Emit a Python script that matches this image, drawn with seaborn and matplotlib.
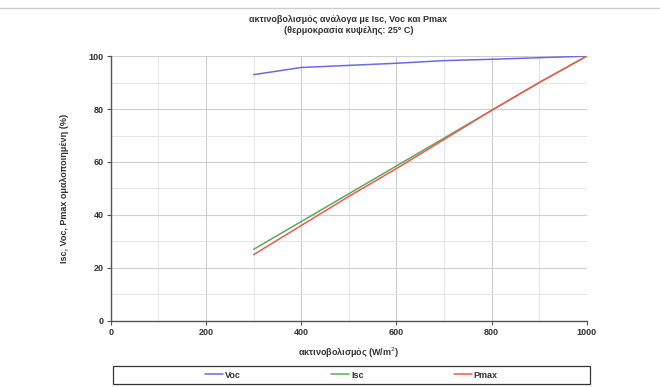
import numpy as np
import pandas as pd
import matplotlib.pyplot as plt
import seaborn as sns

# Τιμές διαβασμένες από το διάγραμμα
irradiance = [300, 400, 500, 600, 700, 800, 900, 1000]
voc = [93.0, 95.7, 96.5, 97.3, 98.3, 98.8, 99.4, 100.0]
isc = [27.0, 37.5, 48.0, 58.5, 69.0, 79.5, 90.0, 100.0]
pmax = [25.0, 36.0, 47.0, 57.5, 68.5, 79.5, 90.0, 100.0]

series = ['Voc', 'Isc', 'Pmax']
colors = ['#6a6ae8', '#5aaa5a', '#ee5a50']

df = pd.DataFrame({'x': irradiance * 3,
                   'value': voc + isc + pmax,
                   'series': np.repeat(series, len(irradiance))})

sns.set_style("white")
plt.rcParams['font.family'] = ['Liberation Sans', 'DejaVu Sans']

fig = plt.figure(figsize=(6.6, 3.87), dpi=100)
ax = fig.add_axes([0.168, 0.171, 0.721, 0.684])

sns.lineplot(data=df, x='x', y='value', hue='series', hue_order=series,
             palette=colors, linewidth=1.1, ax=ax, legend=False)

ax.set_xlim(0, 1000)
ax.set_ylim(0, 100)
ax.set_xticks(range(0, 1001, 200))
ax.set_yticks(range(0, 101, 20))
ax.set_xticks(range(100, 1000, 200), minor=True)
ax.set_yticks(range(10, 100, 20), minor=True)
ax.grid(True, which='major', color='#cfcfcf', linewidth=0.8)
ax.grid(True, which='minor', color='#e6e6e6', linewidth=0.7)
ax.set_axisbelow(True)
for s in ['top', 'right']:
    ax.spines[s].set_visible(False)
for s in ['left', 'bottom']:
    ax.spines[s].set_color('#555555')
    ax.spines[s].set_linewidth(1.0)
ax.tick_params(which='major', direction='out', length=3, width=0.8, color='#555555',
               labelsize=6.5, pad=2, left=True, bottom=True)
ax.tick_params(which='minor', length=0)
for lbl in ax.get_xticklabels() + ax.get_yticklabels():
    lbl.set_fontweight('bold')
    lbl.set_color('#333333')

ax.set_xlabel('ακτινοβολισμός (W/m$^2$)', fontsize=6.5, fontweight='bold', color='#333333', labelpad=6)
ax.set_ylabel('Isc, Voc, Pmax ομαλοποιημένη (%)', fontsize=6.5, fontweight='bold', color='#333333', labelpad=14)
fig.text(0.528, 0.935, 'ακτινοβολισμός ανάλογα με Isc, Voc και Pmax\n(θερμοκρασία κυψέλης: 25° C)',
         ha='center', va='center', fontsize=6.5, fontweight='bold', color='#333333', linespacing=1.3)

# γραμμή πλαισίου πάνω
fig.add_artist(plt.Line2D([0, 1], [0.98, 0.98], color='#cccccc', linewidth=1.0))

# πλαίσιο υπομνήματος
box = plt.Rectangle((113 / 660, 3 / 387), 477 / 660, 18 / 387, transform=fig.transFigure,
                    fill=False, edgecolor='#333333', linewidth=0.9)
fig.add_artist(box)

handles = [plt.Line2D([], [], color=c, linewidth=1.1) for c in colors]
leg = fig.legend(handles, series, loc='center', ncol=3,
                 bbox_to_anchor=(351.5 / 660, 12 / 387),
                 fontsize=6.5, frameon=False, handlelength=2.0,
                 handletextpad=0.2, columnspacing=10.0, borderpad=0.1)
for t in leg.get_texts():
    t.set_fontweight('bold')
    t.set_color('#333333')

fig.savefig('out.png', dpi=100)
